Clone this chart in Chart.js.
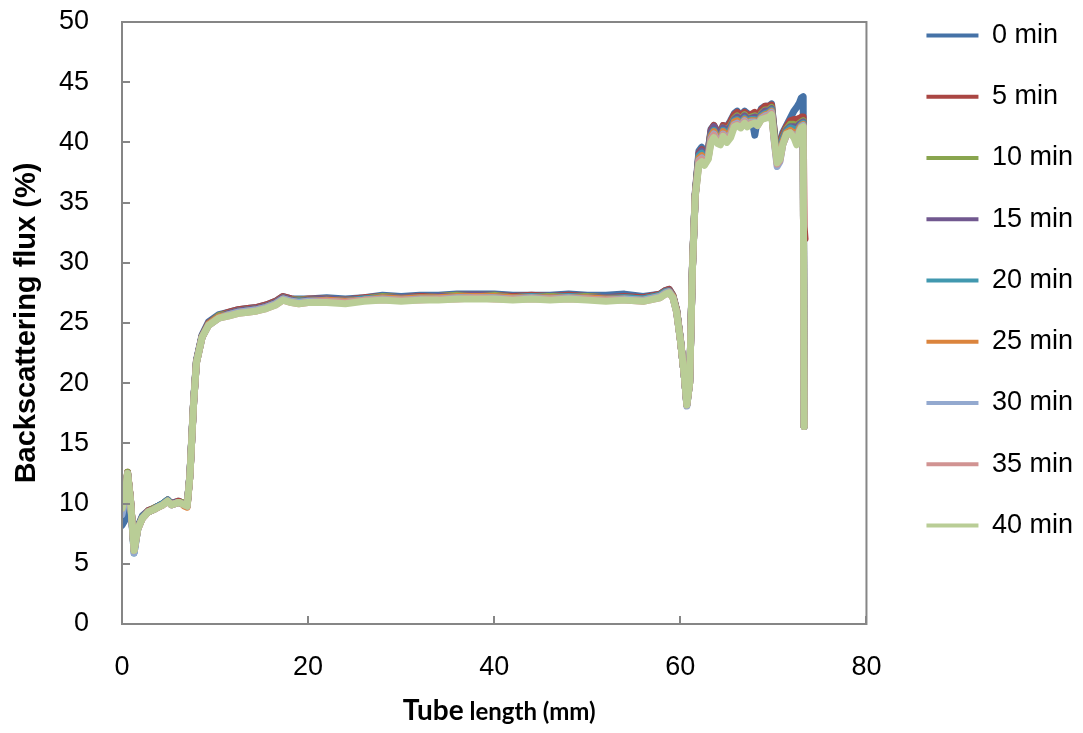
<!DOCTYPE html>
<html>
<head>
<meta charset="utf-8">
<script src="https://cdn.jsdelivr.net/npm/chart.js@4.4.1/dist/chart.umd.min.js"></script>
<style>
  html, body { margin: 0; padding: 0; background: #fff; }
  #wrap { width: 1083px; height: 733px; }
</style>
</head>
<body>
<div id="wrap"><canvas id="chart"></canvas></div>
<script>
// tube position (mm), shared by all scans
const tubeLength = [
  0, 0.3, 0.6, 0.9, 1.3, 1.7, 2.2, 2.8, 3.4, 3.9, 4.4, 4.9, 5.3, 5.7, 6.1, 6.4, 6.7, 7.0, 7.3, 7.7,
  8.0, 8.6, 9.3, 10.4, 11.5, 12.5, 13.5, 14.5, 15.5, 16.5, 17.3, 18.2, 19.0,
  20, 22, 24, 26, 28, 30, 32, 34, 36, 38, 40, 42, 44, 46, 48, 50, 52, 54, 56,
  57.8, 58.4, 58.8, 59.2, 59.6, 60.0, 60.4, 60.7, 61.0, 61.3, 61.6, 62.0, 62.3, 62.6, 63.0, 63.3, 63.6, 64.0,
  64.3, 64.6, 65.0, 65.4, 65.8, 66.1, 66.5, 66.9, 67.2, 67.6, 68.0, 68.3, 68.7, 69.1, 69.5, 69.8,
  70.1, 70.4, 70.7, 71.0, 71.4, 71.8, 72.2, 72.5, 72.8, 73.0, 73.2, 73.3, 73.4
];

const scanLabels = ['0 min', '5 min', '10 min', '15 min', '20 min', '25 min', '30 min', '35 min', '40 min'];
const scanColors = ['#4572A7', '#AA4643', '#89A54E', '#71588F', '#4198AF', '#DB843D', '#93A9CF', '#D19392', '#B9CD96'];

const yTicks = [0, 5, 10, 15, 20, 25, 30, 35, 40, 45, 50];
const xTicks = [0, 20, 40, 60, 80];

// backscattering flux (%) per scan
const bs0 = [
  8.2, 8.6, 12.4, 10.5, 6.2, 8.1, 9.0, 9.4, 9.6, 9.8, 10.0, 10.3, 10.0, 10.1, 10.2, 10.1, 10.0, 9.9, 12.5, 18.6,
  21.9, 24.0, 25.1, 25.7, 25.9, 26.1, 26.2, 26.3, 26.5, 26.8, 27.2, 27.0, 27.0,
  27.0, 27.1, 27.0, 27.1, 27.3, 27.2, 27.3, 27.3, 27.4, 27.4, 27.4, 27.3, 27.3, 27.3, 27.4, 27.3, 27.3, 27.4, 27.2,
  27.4, 27.7, 27.8, 27.3, 26.1, 23.7, 20.8, 18.3, 20.2, 29.8, 35.8, 39.3, 39.6, 39.0, 39.4, 41.1, 41.4, 40.9,
  40.8, 41.4, 41.3, 41.8, 42.4, 42.6, 42.2, 42.6, 42.4, 42.3, 40.6, 42.0, 42.8, 43.0, 43.0, 43.2,
  40.9, 39.2, 39.5, 40.8, 41.4, 42.0, 42.6, 42.9, 43.3, 43.7, 43.8, 16.4, null
];
const bs5 = [
  9.5, 10.4, 12.6, 10.5, 6.2, 8.0, 8.9, 9.4, 9.6, 9.8, 10.0, 10.3, 10.0, 10.1, 10.2, 10.1, 10.0, 9.9, 12.4, 18.5,
  21.8, 23.9, 25.0, 25.6, 25.9, 26.1, 26.2, 26.3, 26.5, 26.8, 27.2, 27.0, 26.9,
  27.0, 27.0, 26.9, 27.1, 27.2, 27.1, 27.2, 27.2, 27.3, 27.3, 27.3, 27.2, 27.3, 27.2, 27.3, 27.2, 27.1, 27.2, 27.1,
  27.4, 27.7, 27.8, 27.3, 26.1, 23.7, 20.9, 18.3, 20.1, 29.7, 35.7, 39.1, 39.4, 38.9, 39.3, 41.0, 41.4, 40.8,
  40.7, 41.4, 41.2, 41.7, 42.3, 42.5, 42.2, 42.5, 42.3, 42.3, 42.5, 42.2, 42.7, 43.0, 43.0, 43.1,
  40.8, 39.0, 39.3, 40.6, 41.3, 41.8, 41.9, 41.9, 42.0, 42.1, 42.1, 33.0, 32.0
];
const bs10 = [
  9.6, 10.5, 12.6, 10.4, 6.1, 8.0, 8.9, 9.3, 9.6, 9.8, 10.0, 10.2, 10.0, 10.1, 10.1, 10.1, 9.9, 9.9, 12.4, 18.5,
  21.8, 23.9, 24.9, 25.6, 25.8, 26.0, 26.1, 26.2, 26.4, 26.7, 27.1, 26.9, 26.9,
  26.9, 27.0, 26.9, 27.0, 27.2, 27.1, 27.1, 27.2, 27.3, 27.2, 27.3, 27.1, 27.2, 27.2, 27.2, 27.2, 27.1, 27.1, 27.0,
  27.3, 27.6, 27.7, 27.2, 26.0, 23.7, 20.8, 18.3, 20.1, 29.6, 35.6, 38.9, 39.2, 38.7, 39.1, 40.8, 41.1, 40.6,
  40.5, 41.2, 41.0, 41.4, 42.0, 42.2, 41.9, 42.3, 42.0, 42.1, 42.2, 41.9, 42.4, 42.7, 42.7, 42.9,
  40.6, 38.8, 39.1, 40.4, 41.1, 41.5, 41.5, 41.4, 41.6, 41.7, 41.8, 16.4, null
];
const bs15 = [
  9.4, 10.4, 12.5, 10.4, 6.1, 8.0, 8.9, 9.3, 9.5, 9.8, 10.0, 10.2, 10.0, 10.1, 10.1, 10.0, 9.9, 9.8, 12.4, 18.5,
  21.8, 23.9, 24.9, 25.5, 25.8, 26.0, 26.1, 26.2, 26.4, 26.7, 27.1, 26.9, 26.8,
  26.9, 27.0, 26.9, 27.0, 27.1, 27.1, 27.1, 27.2, 27.2, 27.3, 27.2, 27.1, 27.2, 27.1, 27.2, 27.1, 27.1, 27.1, 27.0,
  27.3, 27.6, 27.7, 27.2, 26.0, 23.7, 20.8, 18.2, 20.1, 29.6, 35.6, 39.0, 39.3, 38.8, 39.2, 40.9, 41.3, 40.7,
  40.5, 41.2, 40.9, 41.3, 41.9, 42.1, 41.8, 42.2, 41.9, 42.0, 42.1, 41.8, 42.3, 42.6, 42.6, 42.8,
  40.5, 38.6, 38.9, 40.3, 41.0, 41.3, 41.3, 41.2, 41.5, 41.6, 41.7, 16.4, null
];
const bs20 = [
  9.2, 10.3, 12.5, 10.3, 5.9, 7.9, 8.9, 9.3, 9.5, 9.8, 10.0, 10.3, 9.9, 10.0, 10.1, 10.0, 9.9, 9.8, 12.3, 18.4,
  21.7, 23.8, 24.9, 25.5, 25.7, 25.9, 26.0, 26.1, 26.3, 26.6, 27.0, 26.8, 26.8,
  26.8, 26.9, 26.8, 27.0, 27.1, 27.0, 27.1, 27.1, 27.2, 27.2, 27.2, 27.1, 27.2, 27.1, 27.2, 27.1, 27.0, 27.1, 27.0,
  27.3, 27.6, 27.6, 27.2, 26.0, 23.6, 20.8, 18.2, 20.0, 29.6, 35.6, 38.9, 39.1, 38.6, 39.0, 40.6, 41.0, 40.4,
  40.3, 41.0, 40.7, 41.1, 41.8, 41.9, 41.6, 42.0, 41.8, 41.9, 41.9, 41.7, 42.2, 42.4, 42.5, 42.7,
  40.4, 38.5, 38.8, 40.2, 40.9, 41.2, 41.1, 40.9, 41.3, 41.5, 41.6, 16.4, null
];
const bs25 = [
  9.5, 10.4, 12.5, 10.4, 6.1, 7.9, 8.8, 9.3, 9.5, 9.7, 9.9, 10.2, 9.9, 10.0, 10.1, 10.0, 9.8, 9.7, 12.3, 18.4,
  21.7, 23.8, 24.9, 25.5, 25.7, 25.9, 26.0, 26.1, 26.3, 26.6, 27.0, 26.8, 26.7,
  26.8, 26.9, 26.8, 26.9, 27.1, 27.0, 27.1, 27.1, 27.2, 27.2, 27.2, 27.1, 27.1, 27.1, 27.1, 27.1, 27.0, 27.0, 26.9,
  27.2, 27.5, 27.6, 27.2, 26.0, 23.6, 20.8, 18.2, 20.0, 29.6, 35.6, 38.7, 38.9, 38.5, 38.9, 40.5, 40.9, 40.3,
  40.2, 40.9, 40.5, 40.9, 41.7, 41.8, 41.5, 41.9, 41.6, 41.8, 41.8, 41.6, 42.1, 42.3, 42.4, 42.6,
  40.3, 38.4, 38.7, 40.0, 40.8, 41.0, 40.8, 40.6, 41.2, 41.4, 41.5, 16.4, null
];
const bs30 = [
  9.1, 10.2, 12.5, 10.3, 5.9, 7.9, 8.8, 9.3, 9.5, 9.7, 9.9, 10.2, 9.9, 10.0, 10.1, 10.0, 9.9, 9.8, 12.3, 18.4,
  21.7, 23.8, 24.8, 25.4, 25.7, 25.9, 26.0, 26.1, 26.3, 26.6, 27.0, 26.8, 26.7,
  26.8, 26.8, 26.7, 26.9, 27.0, 26.9, 27.0, 27.0, 27.1, 27.1, 27.1, 27.0, 27.1, 27.0, 27.1, 27.0, 26.9, 27.0, 26.9,
  27.2, 27.5, 27.6, 27.1, 25.9, 23.6, 20.8, 18.1, 20.0, 29.5, 35.5, 38.5, 38.7, 38.3, 38.8, 40.3, 40.7, 40.1,
  40.0, 40.7, 40.3, 40.7, 41.5, 41.6, 41.4, 41.8, 41.5, 41.7, 41.7, 41.5, 42.0, 42.2, 42.3, 42.5,
  40.0, 38.0, 38.4, 39.8, 40.6, 40.8, 40.6, 40.3, 41.0, 41.3, 41.4, 16.4, null
];
const bs35 = [
  9.6, 10.5, 12.5, 10.4, 6.1, 7.9, 8.8, 9.3, 9.5, 9.7, 9.9, 10.2, 9.9, 10.0, 10.1, 10.0, 9.9, 9.8, 12.3, 18.4,
  21.7, 23.8, 24.8, 25.4, 25.6, 25.8, 25.9, 26.0, 26.2, 26.5, 26.9, 26.7, 26.6,
  26.7, 26.8, 26.7, 26.9, 26.9, 26.9, 26.9, 27.0, 27.0, 27.1, 27.0, 27.0, 27.0, 27.0, 27.0, 27.0, 26.9, 26.9, 26.8,
  27.1, 27.4, 27.5, 27.1, 25.9, 23.6, 20.8, 18.2, 20.0, 29.5, 35.5, 38.4, 38.6, 38.2, 38.7, 40.2, 40.6, 40.0,
  39.9, 40.6, 40.2, 40.6, 41.4, 41.5, 41.3, 41.7, 41.4, 41.6, 41.6, 41.4, 41.9, 42.1, 42.2, 42.4,
  40.1, 38.2, 38.5, 39.8, 40.6, 40.8, 40.5, 40.1, 40.9, 41.2, 41.3, 16.4, null
];
const bs40 = [
  9.6, 10.6, 12.5, 10.4, 6.1, 7.9, 8.8, 9.3, 9.5, 9.7, 9.9, 10.2, 9.9, 10.0, 10.1, 10.0, 9.9, 9.8, 12.3, 18.4,
  21.7, 23.8, 24.8, 25.4, 25.6, 25.8, 25.9, 26.0, 26.2, 26.5, 26.9, 26.7, 26.6,
  26.7, 26.7, 26.6, 26.8, 26.9, 26.8, 26.9, 26.9, 27.0, 27.0, 27.0, 26.9, 27.0, 26.9, 27.0, 26.9, 26.8, 26.9, 26.8,
  27.1, 27.4, 27.5, 27.1, 25.9, 23.6, 20.8, 18.2, 20.0, 29.5, 35.5, 38.2, 38.4, 38.1, 38.6, 40.0, 40.4, 39.9,
  39.8, 40.5, 40.0, 40.4, 41.3, 41.4, 41.2, 41.6, 41.3, 41.5, 41.6, 41.4, 41.9, 42.0, 42.1, 42.3,
  40.2, 38.3, 38.6, 39.8, 40.7, 40.8, 40.4, 39.8, 40.9, 41.2, 41.3, 16.4, null
];

const allScans = [bs0, bs5, bs10, bs15, bs20, bs25, bs30, bs35, bs40];

const axisGray = '#868686';
const arial = '"Liberation Sans", Arial, sans-serif';

// box round the plot and short inward tick marks, like the Excel original
const framePlugin = {
  id: 'frame',
  afterDatasetsDraw(chart) {
    const { ctx, chartArea: a, scales: { x, y } } = chart;
    ctx.save();
    ctx.strokeStyle = axisGray;
    ctx.lineWidth = 2;
    ctx.strokeRect(a.left, a.top, a.right - a.left, a.bottom - a.top);
    ctx.beginPath();
    yTicks.forEach(v => {
      const py = Math.round(y.getPixelForValue(v));
      ctx.moveTo(a.left, py);
      ctx.lineTo(a.left + 8, py);
    });
    xTicks.forEach(v => {
      const px = Math.round(x.getPixelForValue(v));
      ctx.moveTo(px, a.bottom);
      ctx.lineTo(px, a.bottom - 8);
    });
    ctx.stroke();
    ctx.restore();
  },
  // x title has two font sizes, so it is drawn here
  afterDraw(chart) {
    const { ctx, chartArea: a } = chart;
    const big = 'bold 28px Lato, sans-serif';
    const small = 'bold 24px Lato, sans-serif';
    ctx.save();
    ctx.fillStyle = '#000';
    ctx.textBaseline = 'alphabetic';
    ctx.textAlign = 'left';
    ctx.font = big;
    const w1 = ctx.measureText('Tube').width;
    ctx.font = small;
    const w2 = ctx.measureText(' length (mm)').width;
    const x0 = (a.left + a.right) / 2 + 5 - (w1 + w2) / 2;
    ctx.font = big;
    ctx.fillText('Tube', x0, 720);
    ctx.font = small;
    ctx.fillText(' length (mm)', x0 + w1, 720);
    ctx.restore();
  }
};

const datasets = allScans.map((scan, i) => ({
  label: scanLabels[i],
  data: tubeLength.map((t, j) => ({ x: t, y: scan[j] })),
  borderColor: scanColors[i],
  backgroundColor: scanColors[i],
  borderWidth: 7,
  pointRadius: 0,
  tension: 0,
  spanGaps: true,
  borderJoinStyle: 'round',
  borderCapStyle: 'round',
  order: allScans.length - 1 - i   // 40 min drawn last, on top
}));

new Chart(document.getElementById('chart'), {
  type: 'line',
  data: { datasets },
  plugins: [framePlugin],
  options: {
    responsive: true,
    maintainAspectRatio: false,
    animation: false,
    layout: { padding: { top: 3, right: 0, bottom: 0, left: 0 } },
    scales: {
      x: {
        type: 'linear',
        min: 0,
        max: 80,
        grid: { display: false },
        border: { display: false },
        ticks: { stepSize: 20, color: '#000', padding: 19, font: { family: arial, size: 27 } },
        afterFit(s) { s.height = 109; }
      },
      y: {
        min: 0,
        max: 50,
        grid: { display: false },
        border: { display: false },
        ticks: { stepSize: 5, color: '#000', padding: 25, font: { family: arial, size: 27 } },
        title: {
          display: true,
          text: 'Backscattering flux (%)',
          color: '#000',
          padding: { top: 10, bottom: 0 },
          font: { family: arial, size: 29, weight: 'bold' }
        },
        afterFit(s) {
          s.width = 122;
          s.paddingTop = 22;
          s.paddingBottom = 0;
        }
      },
      gap: {
        type: 'linear',
        position: 'right',
        grid: { display: false },
        border: { display: false },
        ticks: { display: false },
        afterFit(s) { s.width = 41; }
      }
    },
    plugins: {
      tooltip: { enabled: false },
      legend: {
        position: 'right',
        align: 'start',
        labels: {
          usePointStyle: true,
          pointStyle: 'line',
          pointStyleWidth: 52,
          padding: 19,
          color: '#000',
          font: { family: arial, size: 27, lineHeight: '42.25px' },
          generateLabels(chart) {
            return Chart.defaults.plugins.legend.labels.generateLabels(chart)
              .sort((a, b) => a.datasetIndex - b.datasetIndex)
              .map(item => ({ ...item, text: [item.text], lineWidth: 4 }));
          }
        }
      }
    }
  }
});
</script>
</body>
</html>
